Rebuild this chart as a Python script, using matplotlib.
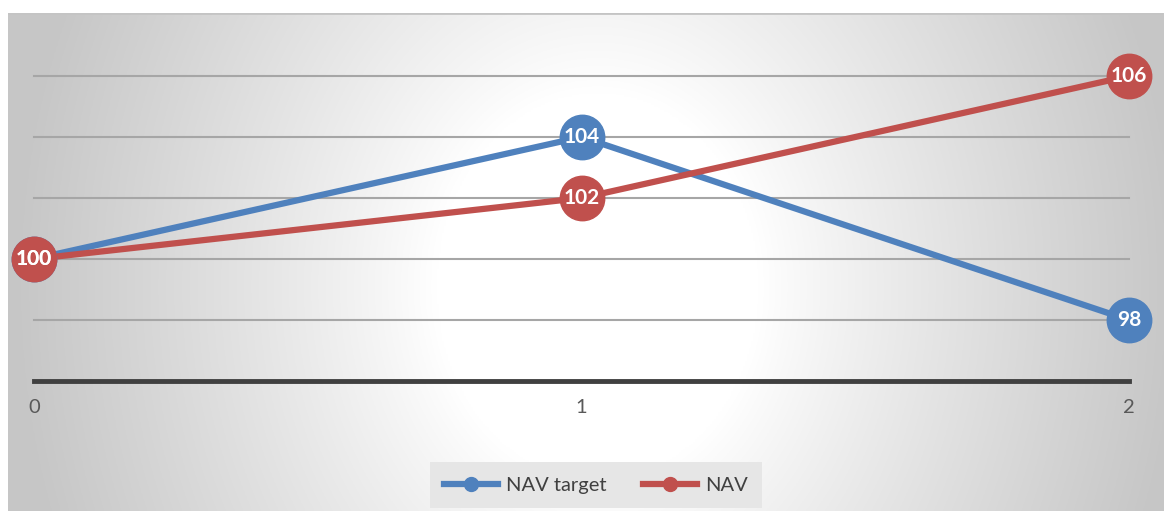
import numpy as np
import matplotlib
matplotlib.use("Agg")
import matplotlib.pyplot as plt
from matplotlib.lines import Line2D

x_points = [0, 1, 2]
nav_target = [100, 104, 98]
nav = [100, 102, 106]
series_names = ["NAV target", "NAV"]
y_grid = [98, 100, 102, 104, 106]

blue = "#4f81bd"
red = "#c0504d"

plt.rcParams["font.family"] = ["Lato", "DejaVu Sans"]

W, H = 1165, 511
fig = plt.figure(figsize=(W / 100, H / 100), dpi=100)
fig.patch.set_facecolor("white")

# radial gradient chart background (white centre, grey sides)
bg = fig.add_axes([8 / W, 0, (1163 - 8) / W, (H - 13) / H])
bg.set_axis_off()
gx, gy = np.meshgrid(np.linspace(-1, 1, 600), np.linspace(-1, 1, 300))
r = np.sqrt(((gx - 0.02) / 1.0) ** 2 + ((gy + 0.1) / 2.8) ** 2)
shade = 1.0 - 0.22 * np.clip((r - 0.28) / 0.72, 0, 1) ** 0.9
img = np.dstack([shade, shade, shade])
bg.imshow(img, aspect="auto", extent=[0, 1, 0, 1], origin="lower")
bg.plot([0, 1], [0.999, 0.999], color="#c4c4c4", lw=2, transform=bg.transAxes)

ax = fig.add_axes([34 / W, (H - 381) / H, (1129 - 34) / W, (381 - 76) / H])
ax.patch.set_alpha(0)
ax.set_xlim(0, 2)
ax.set_ylim(96, 106)
for s in ax.spines.values():
    s.set_visible(False)
for g in y_grid:
    ax.axhline(g, color="#a6a6a6", lw=1.5, zorder=1, clip_on=False)
ax.axhline(96, color="#404040", lw=3.5, zorder=2, clip_on=False)

ax.set_yticks([])
ax.set_xticks(x_points)
ax.tick_params(axis="x", length=0, pad=13, labelsize=14.5, labelcolor="#595959")

for vals, col in [(nav_target, blue), (nav, red)]:
    ax.plot(x_points, vals, color=col, lw=4.5, zorder=3, clip_on=False,
            solid_capstyle="round")
for vals, col in [(nav_target, blue), (nav, red)]:
    ax.plot(x_points, vals, "o", color=col, ms=32, zorder=4, clip_on=False)
    for xv, yv in zip(x_points, vals):
        ax.text(xv, yv, str(yv), color="white", fontsize=15, fontweight="bold",
                ha="center", va="center", zorder=5)

handles = [Line2D([0], [0], color=blue, lw=4.5, marker="o", ms=10),
           Line2D([0], [0], color=red, lw=4.5, marker="o", ms=10)]
leg = fig.legend(handles, series_names, loc="center", bbox_to_anchor=(596 / W, 1 - 485 / H),
                 ncol=2, frameon=True, fontsize=14.5, handlelength=2.7,
                 columnspacing=1.8, handletextpad=0.4, borderpad=0.7,
                 borderaxespad=0)
leg.get_frame().set_facecolor("#e6e6e6")
leg.get_frame().set_edgecolor("none")
leg.get_frame().set_alpha(1)
leg.get_frame().set_boxstyle("square", pad=0)
for t in leg.get_texts():
    t.set_color("#404040")

fig.savefig("out.png", dpi=100)
